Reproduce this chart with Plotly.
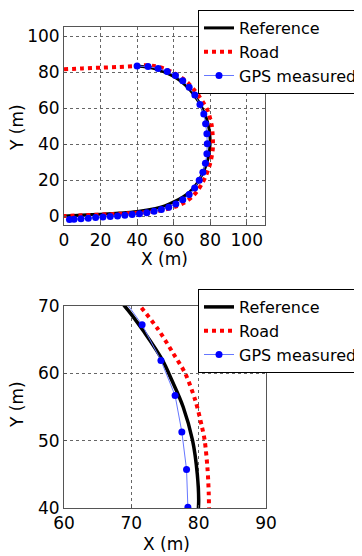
import plotly.graph_objects as go

# ---------------- data ----------------
ref_x = [0, 10, 20, 30, 40, 50, 55, 60, 65, 69, 72, 74.5, 76.5, 78, 79.2, 79.8, 80, 79.8,
         79.1, 77.7, 76, 74.6, 72, 69, 65, 60, 55, 50, 45, 40]
ref_y = [0, 0.5, 1.0, 1.6, 2.5, 4.2, 5.6, 7.8, 10.5, 13.5, 17, 21, 25, 29, 33.5, 38, 41, 45,
         50, 55, 59, 62, 66, 70, 74, 77.5, 80, 81.8, 82.8, 83.2]

road_x = [0, 10, 20, 30, 40, 45, 50, 55, 60, 65, 68, 71.3, 74, 76.2, 78, 79.5, 80.5, 80.9,
          81.3, 81.5, 81.5, 81, 80.2, 79, 77.5, 75.5, 73, 70, 66, 61, 55, 50, 40, 30, 20, 10, 0]
road_y = [81.5, 82, 82.4, 82.8, 83.3, 83.8, 83.2, 81.8, 79.5, 76.3, 73.8, 70, 66.5, 63, 60,
          56, 52, 50, 46, 42, 38, 34, 30, 26, 22, 18, 14, 10.5, 7.5, 5.2, 3.5, 2.6, 1.8, 1.2,
          0.8, 0.4, 0]

gps_x = [40, 46, 51.5, 56.5, 61, 65, 68.5, 71.6, 74.4, 76.5, 77.5, 78.2, 78.4, 78.2, 77.4,
         76, 74, 71.5, 68.5, 65, 61.2, 57.3, 53.3, 49.3, 45.3, 41.3, 37.3, 33.3, 29.3, 25.3,
         21.3, 17.3, 13.3, 9.3, 5.5, 3]
gps_y = [83.3, 83, 82, 80.3, 78, 75.2, 71.5, 67.2, 61.9, 56.7, 51.3, 45.7, 40.1, 34.6, 29.3,
         24.3, 19.8, 15.6, 12, 9, 6.6, 4.9, 3.6, 2.6, 1.8, 1.3, 0.8, 0.4, 0, -0.3, -0.6, -0.9,
         -1.2, -1.5, -1.8, -2]

top_ticks = [0, 20, 40, 60, 80, 100]
zoom_xticks = [60, 70, 80, 90]
zoom_yticks = [40, 50, 60, 70]

# ---------------- figure ----------------
# page body has an 8px margin, so the figure is drawn 8px right/down
OFF = 8
W, H = 362 - OFF, 556 - OFF
ML, MT = 64 - OFF, 27 - OFF
MR, MB = W - (266 - OFF), H - (508 - OFF)
PW, PH = W - ML - MR, H - MT - MB
FONT = "DejaVu Sans, Verdana, sans-serif"


def fx(px):
    return (px - OFF - ML) / PW


def fy(py):
    return 1 - (py - OFF - MT) / PH


fig = go.Figure()

for (xa, ya, lg, lw) in [("x", "y", "legend", 3), ("x2", "y2", "legend2", 3.5)]:
    fig.add_trace(go.Scatter(x=ref_x, y=ref_y, mode="lines", name="Reference",
                             line=dict(color="black", width=lw, shape="spline", smoothing=1),
                             xaxis=xa, yaxis=ya, legend=lg))
    fig.add_trace(go.Scatter(x=road_x, y=road_y, mode="lines", name="Road",
                             line=dict(color="#ff0000", width=4, dash="4px,4px",
                                       shape="spline", smoothing=0.8),
                             xaxis=xa, yaxis=ya, legend=lg))
    fig.add_trace(go.Scatter(x=gps_x, y=gps_y, mode="lines+markers", name="GPS measured",
                             line=dict(color="#6677ff", width=1),
                             marker=dict(color="#0000ff", size=7),
                             xaxis=xa, yaxis=ya, legend=lg))

axis_common = dict(showgrid=True, gridcolor="#666", griddash="dot", gridwidth=1,
                   showline=True, linecolor="#555", linewidth=1, mirror=True,
                   ticks="inside", ticklen=3, tickcolor="#555", automargin=False,
                   zeroline=False, tickfont=dict(size=17, color="black", family=FONT))

legend_common = dict(xanchor="left", yanchor="top", bgcolor="white", bordercolor="black",
                     borderwidth=1, font=dict(size=16, family=FONT, color="black"),
                     tracegroupgap=0)

title_font = dict(size=17, color="black", family=FONT)
annotations = [
    dict(text="X (m)", x=fx(164), y=fy(259), xref="paper", yref="paper", showarrow=False,
         xanchor="center", yanchor="middle", font=title_font),
    dict(text="Y (m)", x=fx(17), y=fy(128), xref="paper", yref="paper", showarrow=False,
         xanchor="center", yanchor="middle", textangle=-90, font=title_font),
    dict(text="X (m)", x=fx(166), y=fy(544), xref="paper", yref="paper", showarrow=False,
         xanchor="center", yanchor="middle", font=title_font),
    dict(text="Y (m)", x=fx(17), y=fy(405), xref="paper", yref="paper", showarrow=False,
         xanchor="center", yanchor="middle", textangle=-90, font=title_font),
]

fig.update_layout(
    width=W, height=H, margin=dict(l=ML, r=MR, t=MT, b=MB, pad=0, autoexpand=False),
    paper_bgcolor="white", plot_bgcolor="white",
    font=dict(family=FONT, color="black"),
    xaxis=dict(domain=[0, fx(265)], range=[0, 110], tickvals=top_ticks, anchor="y",
               **axis_common),
    yaxis=dict(domain=[fy(225), 1], range=[-5, 105], tickvals=top_ticks, anchor="x",
               **axis_common),
    xaxis2=dict(domain=[0, 1], range=[60, 90], tickvals=zoom_xticks, anchor="y2",
                **axis_common),
    yaxis2=dict(domain=[0, fy(306)], range=[40, 70], tickvals=zoom_yticks, anchor="x2",
                **axis_common),
    legend=dict(x=fx(198), y=fy(10), **legend_common),
    legend2=dict(x=fx(198), y=fy(289), **legend_common),
    annotations=annotations,
    showlegend=True,
)

fig.write_html("out.html")
